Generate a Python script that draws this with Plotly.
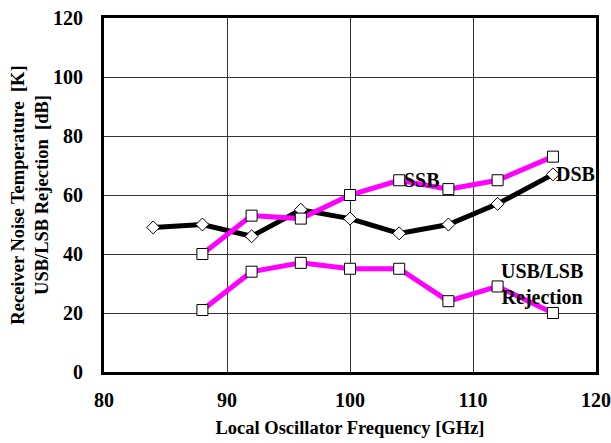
import plotly.graph_objects as go

freq = [84, 88, 92, 96, 100, 104, 108, 112, 116.5]
dsb = [49, 50, 46, 55, 52, 47, 50, 57, 67]
freq_ssb = [88, 92, 96, 100, 104, 108, 112, 116.5]
ssb = [40, 53, 52, 60, 65, 62, 65, 73]
rejection = [21, 34, 37, 35, 35, 24, 29, 20]

font = "Liberation Serif"

fig = go.Figure()
fig.add_trace(go.Scatter(x=freq, y=dsb, mode="lines+markers",
    line=dict(color="black", width=5),
    marker=dict(symbol="diamond", size=10, color="white", line=dict(color="black", width=1))))
fig.add_trace(go.Scatter(x=freq_ssb, y=ssb, mode="lines+markers",
    line=dict(color="#ff00ff", width=5),
    marker=dict(symbol="square", size=11, color="white", line=dict(color="black", width=1))))
fig.add_trace(go.Scatter(x=freq_ssb, y=rejection, mode="lines+markers",
    line=dict(color="#ff00ff", width=5),
    marker=dict(symbol="square", size=11, color="white", line=dict(color="black", width=1))))

ann_font = dict(family=font, size=20, color="black", weight="bold")
fig.add_annotation(x=104.2, y=65, text="SSB", showarrow=False, xanchor="left", font=ann_font)
fig.add_annotation(x=116.6, y=67, text="DSB", showarrow=False, xanchor="left", font=ann_font)
fig.add_annotation(x=115.6, y=29.5, text="USB/LSB<br>Rejection", showarrow=False,
                   xanchor="center", font=ann_font)

tickfont = dict(family=font, size=20, color="black", weight="bold")
titlefont = dict(family=font, size=18.5, color="black", weight="bold")

fig.update_layout(
    width=611, height=443,
    margin=dict(l=104, r=15, t=18, b=71),
    plot_bgcolor="white", paper_bgcolor="white",
    showlegend=False,
    font=dict(family=font, color="black"),
    xaxis=dict(range=[80, 120], tickvals=[80, 90, 100, 110, 120], showgrid=True,
               gridcolor="#333", gridwidth=1, showline=True, linecolor="black", linewidth=3,
               mirror=True, zeroline=False, ticks="", ticklabelstandoff=8, automargin=False,
               tickfont=tickfont,
               title=dict(text="Local Oscillator Frequency [GHz]", font=titlefont, standoff=12)),
    yaxis=dict(range=[0, 120], tickvals=[0, 20, 40, 60, 80, 100, 120], showgrid=True,
               gridcolor="#333", gridwidth=1, showline=True, linecolor="black", linewidth=3,
               mirror=True, zeroline=False, ticks="", ticklabelstandoff=14, automargin=False,
               tickfont=tickfont,
               title=dict(text="Receiver Noise Temperature  [K]<br>USB/LSB Rejection  [dB]",
                          font=titlefont, standoff=0)),
)

fig.write_html("out.html")
